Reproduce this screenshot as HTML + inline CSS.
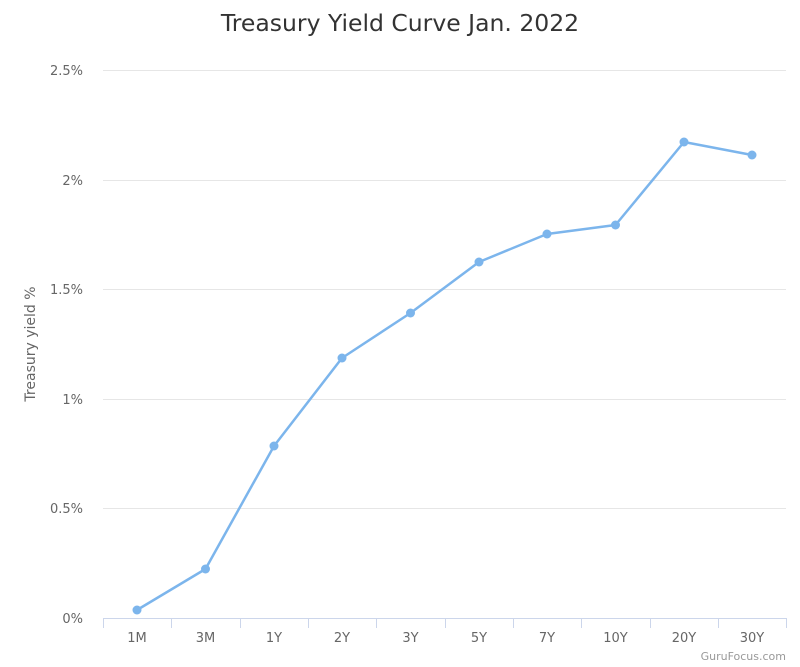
<!DOCTYPE html>
<html><head><meta charset="utf-8"><style>
body{margin:0;background:#fff;}
svg{display:block;font-family:"DejaVu Sans","Liberation Sans",sans-serif;}
</style></head><body>
<svg width="800" height="667" viewBox="0 0 800 667" xmlns="http://www.w3.org/2000/svg">
<rect width="800" height="667" fill="#fff"/>
<text x="400" y="31" text-anchor="middle" font-size="23.5" fill="#333">Treasury Yield Curve Jan. 2022</text>
<g stroke="#e6e6e6" stroke-width="1">
<line x1="103" x2="786" y1="70.5" y2="70.5"/>
<line x1="103" x2="786" y1="180.5" y2="180.5"/>
<line x1="103" x2="786" y1="289.5" y2="289.5"/>
<line x1="103" x2="786" y1="399.5" y2="399.5"/>
<line x1="103" x2="786" y1="508.5" y2="508.5"/>
</g>
<line x1="103" x2="786" y1="618.5" y2="618.5" stroke="#ccd6eb"/>
<g stroke="#ccd6eb">
<line x1="103.5" x2="103.5" y1="618" y2="628"/>
<line x1="171.5" x2="171.5" y1="618" y2="628"/>
<line x1="240.5" x2="240.5" y1="618" y2="628"/>
<line x1="308.5" x2="308.5" y1="618" y2="628"/>
<line x1="376.5" x2="376.5" y1="618" y2="628"/>
<line x1="445.5" x2="445.5" y1="618" y2="628"/>
<line x1="513.5" x2="513.5" y1="618" y2="628"/>
<line x1="581.5" x2="581.5" y1="618" y2="628"/>
<line x1="650.5" x2="650.5" y1="618" y2="628"/>
<line x1="718.5" x2="718.5" y1="618" y2="628"/>
<line x1="786.5" x2="786.5" y1="618" y2="628"/>
</g>
<g font-size="13" fill="#666" text-anchor="end">
<text x="83" y="75">2.5%</text>
<text x="83" y="185">2%</text>
<text x="83" y="294">1.5%</text>
<text x="83" y="404">1%</text>
<text x="83" y="513">0.5%</text>
<text x="83" y="623">0%</text>
</g>
<text transform="translate(35,344) rotate(-90)" text-anchor="middle" font-size="14" fill="#666">Treasury yield %</text>
<g font-size="13" fill="#666" text-anchor="middle">
<text x="137" y="642">1M</text>
<text x="205.5" y="642">3M</text>
<text x="274" y="642">1Y</text>
<text x="342" y="642">2Y</text>
<text x="410.5" y="642">3Y</text>
<text x="479" y="642">5Y</text>
<text x="547" y="642">7Y</text>
<text x="615.5" y="642">10Y</text>
<text x="684" y="642">20Y</text>
<text x="752" y="642">30Y</text>
</g>
<polyline fill="none" stroke="#7cb5ec" stroke-width="2.5" stroke-linejoin="round" points="137,610 205.5,569 274,446 342,358 410.5,313 479,262 547,234 615.5,225 684,142 752,155"/>
<g fill="#7cb5ec">
<circle cx="137" cy="610" r="4.5"/><circle cx="205.5" cy="569" r="4.5"/><circle cx="274" cy="446" r="4.5"/><circle cx="342" cy="358" r="4.5"/><circle cx="410.5" cy="313" r="4.5"/><circle cx="479" cy="262" r="4.5"/><circle cx="547" cy="234" r="4.5"/><circle cx="615.5" cy="225" r="4.5"/><circle cx="684" cy="142" r="4.5"/><circle cx="752" cy="155" r="4.5"/>
</g>
<text x="786" y="660" text-anchor="end" font-size="11" fill="#999">GuruFocus.com</text>
</svg>
</body></html>
